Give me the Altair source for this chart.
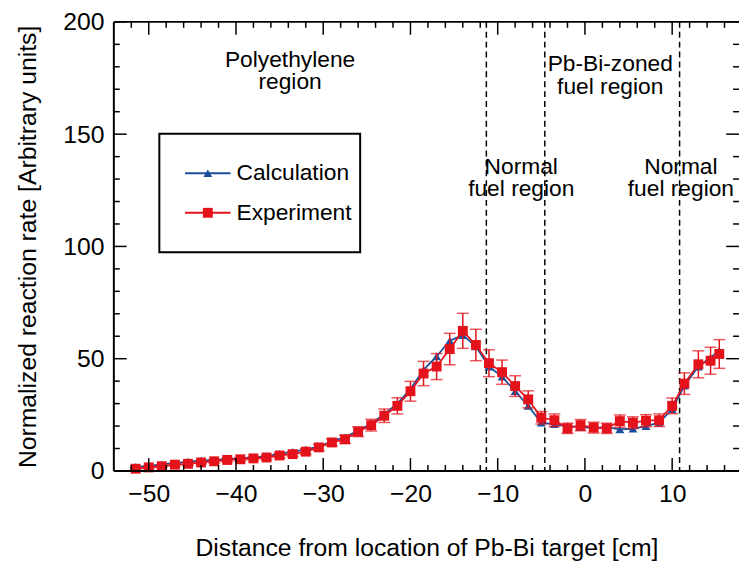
import altair as alt
import pandas as pd

# ---------------- data ----------------
x_pos = [-51.5, -50, -48.5, -47, -45.5, -44, -42.5, -41, -39.5, -38, -36.5, -35,
         -33.5, -32, -30.5, -29, -27.5, -26, -24.5, -23, -21.5, -20, -18.5, -17,
         -15.5, -14, -12.5, -11, -9.5, -8, -6.5, -5, -3.5, -2, -0.5, 1, 2.5, 4,
         5.5, 7, 8.5, 10, 11.4, 13, 14.4, 15.4]
calc = [1.8, 2.2, 3.0, 3.5, 4.2, 4.6, 4.9, 5.3, 5.6, 5.9, 6.6, 7.6,
        8.5, 9.6, 10.8, 13.3, 15.0, 18.0, 21.0, 25.3, 30.0, 36.5, 45.0, 51.0,
        58.0, 60.5, 55.5, 46.5, 42.0, 35.5, 29.0, 21.5, 20.8, 20.0, 19.5, 19.2, 19.5, 18.5,
        18.8, 20.0, 21.5, 27.5, 38.0, 46.5, 50.5, 53.5]
exp = [1.0, 1.6, 2.1, 2.8, 3.2, 3.8, 4.3, 4.9, 5.2, 5.6, 6.0, 6.9,
       7.5, 8.6, 10.5, 12.7, 14.1, 17.5, 20.4, 24.6, 29.0, 35.5, 43.4, 46.5,
       54.3, 62.4, 56.1, 48.0, 44.0, 37.8, 31.9, 23.7, 22.6, 19.0, 20.4, 19.3, 19.0, 22.2,
       21.5, 22.4, 22.6, 29.0, 38.9, 47.5, 49.1, 52.1]
err = [0.5, 0.5, 0.5, 0.6, 0.6, 0.6, 0.7, 0.8, 0.8, 0.8, 0.9, 1.0,
       1.0, 1.2, 1.4, 1.6, 1.8, 2.2, 2.6, 3.0, 3.6, 4.4, 5.4, 5.8,
       7.0, 7.8, 7.0, 6.0, 5.4, 4.6, 3.8, 2.8, 2.8, 2.3, 2.5, 2.4, 2.3, 2.7,
       2.6, 2.7, 2.8, 3.5, 4.8, 6.0, 6.0, 6.4]

boundaries = [-11.3, -4.6, 10.85]

ann_text = ["Polyethylene", "region", "Pb-Bi-zoned", "fuel region",
            "Normal", "fuel region", "Normal", "fuel region"]
ann_x = [-33.8, -33.8, 2.9, 2.9, -7.3, -7.3, 11.0, 11.0]
ann_y = [182.8, 173.1, 181.1, 171.0, 135.2, 125.6, 135.2, 125.6]

x_major = [-50, -40, -30, -20, -10, 0, 10]
x_minor = [-52, -48, -46, -44, -42, -38, -36, -34, -32, -28, -26, -24, -22,
           -18, -16, -14, -12, -8, -6, -4, -2, 2, 4, 6, 8, 12, 14, 16]
y_major = [0, 50, 100, 150, 200]
y_minor = [10, 20, 30, 40, 60, 70, 80, 90, 110, 120, 130, 140, 160, 170, 180, 190]

legend_labels = ["Calculation", "Experiment"]

# ---------------- styling ----------------
BLUE = "#1b4f9c"
RED = "#e3121b"
FONT = "Liberation Sans"
W, H = 632, 454
XT = "Distance from location of Pb-Bi target [cm]"
YT = "Normalized reaction rate [Arbitrary units]"

df = pd.DataFrame({"x": x_pos, "calc": calc, "exp": exp, "err": err})
df["lo"] = df["exp"] - df["err"]
df["hi"] = df["exp"] + df["err"]

xs = alt.Scale(domain=[-54, 17.66], nice=False, zero=False)
ys = alt.Scale(domain=[0, 200], nice=False, zero=False)

x_ax = alt.Axis(values=x_major, labelPadding=11, titlePadding=29)
y_ax = alt.Axis(values=y_major, labelPadding=10, titlePadding=22)


def XX(field="x"):
    return alt.X(f"{field}:Q", scale=xs, axis=x_ax, title=XT)


def YY(field):
    return alt.Y(f"{field}:Q", scale=ys, axis=y_ax, title=YT)


base = alt.Chart(df)

calc_line = base.mark_line(color=BLUE, strokeWidth=1.8).encode(x=XX(), y=YY("calc"))
calc_pts = base.mark_point(shape="triangle-up", filled=True, size=80, color=BLUE,
                           opacity=1).encode(x=XX(), y=YY("calc"))

err_rule = base.mark_rule(color=RED, strokeWidth=1.5).encode(
    x=XX(), y=YY("lo"), y2="hi:Q")
cap_lo = base.mark_tick(color=RED, thickness=1.5, size=12, orient="horizontal").encode(
    x=XX(), y=YY("lo"))
cap_hi = base.mark_tick(color=RED, thickness=1.5, size=12, orient="horizontal").encode(
    x=XX(), y=YY("hi"))

exp_line = base.mark_line(color=RED, strokeWidth=1.8).encode(x=XX(), y=YY("exp"))
exp_pts = base.mark_square(size=100, color=RED, opacity=1).encode(x=XX(), y=YY("exp"))

dash = alt.Chart(pd.DataFrame({"x": boundaries})).mark_rule(
    color="black", strokeWidth=1.5, strokeDash=[6, 4]).encode(x=XX())

ann = alt.Chart(pd.DataFrame({"x": ann_x, "y": ann_y, "t": ann_text})).mark_text(
    font=FONT, fontSize=23, align="center", baseline="middle", color="black").encode(
    x=XX(), y=YY("y"), text="t:N")


# ticks (inward)
def xticks(vals, length):
    d = alt.Chart(pd.DataFrame({"x": vals}))
    bot = d.mark_rule(color="black", strokeWidth=1.5).encode(
        x=XX(), y=alt.value(H), y2=alt.value(H - length))
    top = d.mark_rule(color="black", strokeWidth=1.5).encode(
        x=XX(), y=alt.value(0), y2=alt.value(length))
    return [bot, top]


def yticks(vals, length):
    d = alt.Chart(pd.DataFrame({"y": vals}))
    left = d.mark_rule(color="black", strokeWidth=1.5).encode(
        y=YY("y"), x=alt.value(0), x2=alt.value(length))
    right = d.mark_rule(color="black", strokeWidth=1.5).encode(
        y=YY("y"), x=alt.value(W), x2=alt.value(W - length))
    return [left, right]


one = alt.Chart(pd.DataFrame({"a": [0]}))
frame = [
    one.mark_rule(color="black", strokeWidth=2).encode(x=alt.value(0), x2=alt.value(W), y=alt.value(0)),
    one.mark_rule(color="black", strokeWidth=2).encode(x=alt.value(0), x2=alt.value(W), y=alt.value(H)),
    one.mark_rule(color="black", strokeWidth=2).encode(x=alt.value(0), y=alt.value(0), y2=alt.value(H)),
]

# legend
LX0, LX1, LY0, LY1 = 46, 249, 113, 233
leg_box = one.mark_rect(fill="white", stroke="black", strokeWidth=2).encode(
    x=alt.value(LX0), x2=alt.value(LX1), y=alt.value(LY0), y2=alt.value(LY1))
leg = [leg_box]
for lab, col, shape, sz, yy in [(legend_labels[0], BLUE, "triangle-up", 80, 153),
                                (legend_labels[1], RED, "square", 100, 193)]:
    leg.append(one.mark_rule(color=col, strokeWidth=2).encode(
        x=alt.value(72), x2=alt.value(118), y=alt.value(yy)))
    leg.append(one.mark_point(shape=shape, filled=True, size=sz, color=col, opacity=1).encode(
        x=alt.value(95), y=alt.value(yy)))
    leg.append(one.mark_text(font=FONT, fontSize=23, align="left", baseline="middle",
                             color="black").encode(
        x=alt.value(124), y=alt.value(yy), text=alt.value(lab)))

layers = [calc_line, dash, ann, calc_pts, err_rule, cap_lo, cap_hi, exp_line, exp_pts]
layers += xticks(x_major, 13) + xticks(x_minor, 6) + yticks(y_major, 13) + yticks(y_minor, 6)
layers += frame + leg

chart = alt.layer(*layers).properties(
    width=W, height=H,
    autosize=alt.AutoSizeParams(type="none"),
    padding={"left": 107, "top": 11, "right": 0, "bottom": 90},
).configure_view(stroke=None).configure_axis(
    grid=False, ticks=False, domain=False,
    labelFont=FONT, titleFont=FONT, labelFontSize=25, titleFontSize=25,
    labelColor="black", titleColor="black", titleFontWeight="normal",
)

chart.save("out.html", embed_options={"renderer": "svg", "actions": False})
